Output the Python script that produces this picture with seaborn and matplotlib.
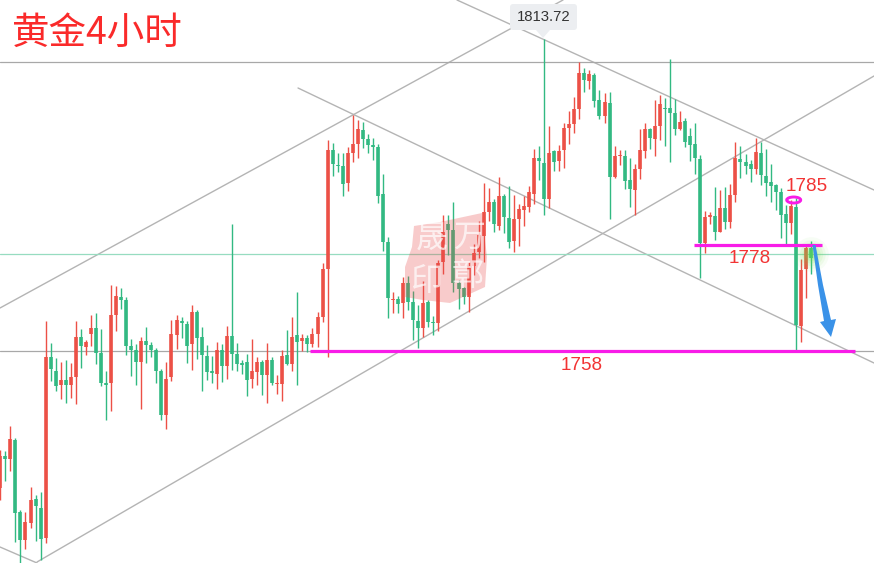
import numpy as np
import pandas as pd
import seaborn as sns
import matplotlib
matplotlib.use("Agg")
import matplotlib.pyplot as plt
from matplotlib.patches import Ellipse, FancyBboxPatch, Polygon
from matplotlib.transforms import Affine2D

highs = [
    1740.18, 1740.0, 1744.5, 1742.34, 1729.38, 1729.02, 1733.46, 1732.08, 1732.62, 1763.4,
    1759.44, 1756.74, 1756.02, 1756.38, 1755.84, 1763.4, 1761.96, 1759.98, 1764.48, 1764.84,
    1761.96, 1754.4, 1769.88, 1769.7, 1769.34, 1767.72, 1760.16, 1759.26, 1760.52, 1762.32,
    1759.62, 1758.54, 1754.76, 1756.02, 1763.58, 1764.48, 1764.12, 1763.4, 1766.28, 1765.38,
    1762.32, 1759.08, 1757.1, 1759.62, 1759.26, 1762.5, 1780.86, 1759.44, 1756.38, 1757.46,
    1760.16, 1756.92, 1756.38, 1759.44, 1756.92, 1753.68, 1758.18, 1761.78, 1764.12, 1768.62,
    1761.06, 1760.88, 1762.14, 1765.02, 1773.84, 1795.98, 1795.44, 1793.64, 1793.64, 1794.72,
    1800.48, 1799.58, 1799.22, 1797.06, 1796.34, 1795.26, 1789.86, 1778.52, 1768.62, 1767.9,
    1771.32, 1771.5, 1768.8, 1766.28, 1770.6, 1767.18, 1764.3, 1774.38, 1782.48, 1782.48,
    1784.82, 1770.78, 1769.52, 1774.02, 1777.26, 1781.4, 1788.24, 1787.34, 1785.36, 1789.32,
    1786.26, 1787.7, 1786.08, 1784.46, 1785.9, 1787.7, 1794.36, 1794.9, 1814.16, 1798.5,
    1794.18, 1795.08, 1799.04, 1801.2, 1803.72, 1810.02, 1808.94, 1808.58, 1808.04, 1804.98,
    1804.44, 1804.62, 1794.9, 1794.18, 1794.18, 1792.74, 1791.66, 1797.96, 1799.04, 1798.14,
    1803.18, 1804.08, 1803.54, 1810.56, 1803.36, 1801.2, 1799.94, 1798.14, 1799.04, 1793.28,
    1783.2, 1783.02, 1787.52, 1786.98, 1787.52, 1788.06, 1795.62, 1794.9, 1793.46, 1792.38,
    1796.34, 1795.62, 1794.36, 1791.66, 1788.06, 1787.34, 1784.28, 1785.18, 1785.54, 1774.56,
    1776.9, 1777.8,
]
lows = [
    1731.18, 1734.66, 1736.4, 1723.62, 1719.78, 1722.42, 1726.14, 1723.8, 1720.38, 1723.44,
    1752.6, 1750.8, 1749.36, 1748.64, 1749.54, 1748.46, 1754.94, 1757.28, 1758.9, 1755.66,
    1751.7, 1745.58, 1747.2, 1761.6, 1765.56, 1757.28, 1753.5, 1751.88, 1747.56, 1755.84,
    1756.92, 1752.24, 1745.58, 1743.96, 1752.6, 1758.36, 1760.34, 1755.84, 1754.58, 1756.56,
    1750.8, 1752.78, 1752.24, 1751.16, 1752.42, 1752.96, 1754.58, 1754.4, 1753.86, 1749.9,
    1751.34, 1751.88, 1750.08, 1748.64, 1751.88, 1750.26, 1749.0, 1755.48, 1754.4, 1751.88,
    1758.0, 1757.82, 1758.72, 1758.72, 1763.22, 1756.92, 1789.5, 1790.22, 1785.9, 1786.8,
    1792.02, 1792.74, 1794.54, 1793.64, 1792.38, 1784.64, 1776.0, 1763.94, 1764.84, 1764.84,
    1763.94, 1765.38, 1759.98, 1758.54, 1760.52, 1762.32, 1760.88, 1761.6, 1771.86, 1775.28,
    1768.62, 1765.56, 1766.46, 1765.02, 1771.68, 1774.74, 1774.02, 1781.4, 1779.42, 1779.78,
    1779.24, 1776.54, 1775.82, 1776.9, 1780.5, 1783.02, 1784.46, 1788.78, 1782.48, 1783.74,
    1790.4, 1790.4, 1790.94, 1795.26, 1797.24, 1799.76, 1804.62, 1805.16, 1801.92, 1799.76,
    1799.04, 1781.76, 1789.14, 1791.48, 1787.16, 1783.92, 1782.48, 1788.96, 1792.74, 1794.36,
    1793.1, 1795.98, 1794.9, 1792.02, 1796.88, 1797.78, 1794.72, 1792.2, 1789.86, 1771.14,
    1775.64, 1780.86, 1777.98, 1779.42, 1779.96, 1780.14, 1784.82, 1789.14, 1789.86, 1788.42,
    1789.86, 1787.88, 1785.9, 1784.82, 1783.38, 1778.34, 1777.26, 1779.06, 1758.18, 1759.62,
    1767.54, 1771.86,
]
opens = [
    1733.34, 1739.1, 1738.56, 1741.98, 1729.02, 1723.98, 1727.04, 1731.36, 1729.74, 1724.34,
    1756.92, 1754.4, 1751.88, 1752.78, 1751.88, 1753.32, 1760.52, 1758.72, 1761.06, 1762.14,
    1757.64, 1752.24, 1752.24, 1764.48, 1767.72, 1767.18, 1758.9, 1758.18, 1756.02, 1759.8,
    1759.08, 1758.18, 1754.4, 1746.48, 1753.32, 1760.88, 1763.4, 1762.86, 1759.26, 1765.02,
    1760.52, 1757.1, 1754.4, 1753.86, 1758.18, 1755.3, 1760.7, 1757.46, 1755.84, 1756.02,
    1752.96, 1754.22, 1756.02, 1753.68, 1756.38, 1752.06, 1752.06, 1757.28, 1755.66, 1760.88,
    1759.8, 1760.34, 1759.26, 1761.06, 1764.12, 1772.76, 1794.18, 1791.48, 1791.3, 1788.24,
    1793.64, 1795.26, 1797.78, 1796.16, 1795.08, 1794.72, 1786.26, 1777.62, 1767.18, 1767.36,
    1766.64, 1770.24, 1766.82, 1763.4, 1762.14, 1766.82, 1763.22, 1763.04, 1774.02, 1780.86,
    1779.78, 1770.24, 1769.34, 1767.72, 1773.3, 1775.82, 1778.7, 1783.02, 1784.82, 1780.5,
    1785.9, 1781.94, 1777.8, 1781.76, 1783.38, 1783.92, 1786.26, 1792.74, 1791.84, 1785.36,
    1794.0, 1792.2, 1794.18, 1798.14, 1798.86, 1801.56, 1808.04, 1806.6, 1807.68, 1803.18,
    1800.3, 1802.64, 1789.32, 1793.1, 1793.1, 1788.78, 1786.98, 1790.76, 1794.0, 1797.96,
    1796.16, 1798.5, 1801.74, 1801.74, 1800.84, 1797.96, 1799.4, 1796.7, 1795.26, 1792.56,
    1777.44, 1782.12, 1782.3, 1779.42, 1783.74, 1781.22, 1786.08, 1792.56, 1792.02, 1791.66,
    1790.76, 1793.64, 1789.5, 1788.42, 1787.88, 1786.62, 1782.66, 1781.04, 1783.92, 1762.5,
    1772.76, 1776.54,
]
closes = [
    1739.1, 1738.56, 1742.16, 1728.84, 1723.98, 1727.22, 1731.18, 1730.1, 1724.16, 1756.92,
    1754.76, 1751.7, 1752.78, 1751.88, 1753.32, 1760.52, 1758.9, 1759.62, 1762.14, 1757.64,
    1752.24, 1751.88, 1764.48, 1767.9, 1767.18, 1758.9, 1758.18, 1756.02, 1759.8, 1759.08,
    1758.18, 1754.4, 1746.48, 1752.96, 1761.06, 1763.58, 1763.04, 1758.9, 1765.02, 1760.34,
    1757.28, 1754.22, 1754.04, 1758.18, 1755.3, 1760.7, 1757.46, 1755.66, 1755.48, 1752.78,
    1754.4, 1756.02, 1753.68, 1756.38, 1752.24, 1752.24, 1757.1, 1755.66, 1760.52, 1759.62,
    1760.34, 1759.26, 1761.06, 1764.12, 1772.76, 1794.18, 1791.66, 1791.3, 1788.06, 1793.64,
    1795.26, 1797.96, 1796.16, 1795.08, 1794.72, 1785.9, 1777.62, 1767.54, 1767.36, 1766.46,
    1770.24, 1766.82, 1763.58, 1762.14, 1766.64, 1763.22, 1763.04, 1773.84, 1779.42, 1779.78,
    1770.24, 1769.16, 1767.72, 1773.3, 1775.64, 1778.88, 1783.02, 1784.82, 1780.86, 1785.9,
    1782.12, 1777.62, 1781.76, 1783.56, 1784.1, 1786.62, 1792.74, 1792.2, 1785.36, 1793.64,
    1792.02, 1794.0, 1798.14, 1798.86, 1801.56, 1808.04, 1806.78, 1807.86, 1803.0, 1800.3,
    1802.82, 1789.32, 1793.1, 1793.28, 1788.6, 1787.16, 1790.76, 1794.18, 1797.96, 1796.34,
    1798.5, 1802.46, 1801.56, 1800.84, 1797.96, 1799.22, 1795.62, 1795.08, 1792.74, 1777.44,
    1782.12, 1782.48, 1779.42, 1783.74, 1781.22, 1786.08, 1792.74, 1792.02, 1791.3, 1790.76,
    1793.82, 1789.68, 1788.24, 1787.7, 1786.62, 1782.48, 1781.04, 1784.1, 1762.68, 1772.58,
    1776.54, 1774.74,
]

# drawn trend lines: bar index and price at both ends
trend_names = ["up_top", "up_bottom", "down_mid", "down_top", "down_left"]
trend_bars = [(-0.06, 111.76), (7.29, 173.52), (59.13, 173.52), (90.7, 173.52), (-0.06, 7.29)]
trend_prices = [(1765.74, 1821.18), (1720.02, 1807.5), (1805.34, 1755.84), (1821.18, 1786.98), (1722.72, 1719.84)]

resistance_price = 1810.1
floor_price = 1758.0
last_price = 1775.4

# magenta levels
level_bars = [(61.5, 169.75), (137.8, 163.2)]
level_prices = [1758.0, 1777.08]
level_labels = ["1758", "1778", "1785"]
label_bars = [115.5, 148.8, 160.1]
label_prices = [1755.4, 1774.7, 1787.6]

title = "黄金4小时"
peak_label = "1813.72"
stamp_chars = ["晟", "万", "印", "鄣"]

W, H = 874, 563
up_colour, down_colour = "#ec5046", "#32b982"

sns.set_theme(style="white")
plt.rcParams["font.family"] = ["Liberation Sans", "Noto Sans CJK SC", "DejaVu Sans"]

fig = plt.figure(figsize=(W / 100, H / 100), dpi=100)
ax = fig.add_axes([0, 0, 1, 1])
# picture pixels, origin at the top left, for the hand drawn marks
px = Affine2D().scale(1, -1).translate(0, H)

df = pd.DataFrame({"bar": range(len(opens)), "open": opens, "high": highs, "low": lows, "close": closes})
df["side"] = np.where(df["close"] >= df["open"], "up", "down")
wicks = df.melt(id_vars=["bar", "side"], value_vars=["high", "low"], value_name="price")
bodies = df.melt(id_vars=["bar", "side"], value_vars=["open", "close"], value_name="price")

trends = pd.DataFrame({
    "name": np.repeat(trend_names, 2),
    "bar": np.ravel(trend_bars),
    "price": np.ravel(trend_prices),
})

sns.lineplot(data=trends, x="bar", y="price", units="name", estimator=None, color="#b4b4b4",
             linewidth=1.0, legend=False, ax=ax, zorder=1)
ax.axhline(resistance_price, color="#a8a8a8", lw=0.9, zorder=1)
ax.axhline(floor_price, color="#a8a8a8", lw=0.9, zorder=1)
ax.axhline(last_price, color="#97dcc0", lw=0.9, zorder=1)

palette = {"up": up_colour, "down": down_colour}
sns.lineplot(data=wicks, x="bar", y="price", hue="side", units="bar", estimator=None, palette=palette,
             linewidth=1.0, legend=False, ax=ax, zorder=3, solid_capstyle="butt")
sns.lineplot(data=bodies, x="bar", y="price", hue="side", units="bar", estimator=None, palette=palette,
             linewidth=2.6, legend=False, ax=ax, zorder=3, solid_capstyle="butt")

# seal over the candles
stamp = Polygon([(414, 226), (440, 222), (482, 213), (487, 257), (485, 287), (450, 303), (423, 300),
                 (405, 297), (405, 267), (412, 247)], closed=True, fc="#e64646", ec="none", alpha=0.28,
                transform=px, zorder=4)
ax.add_patch(stamp)
for ch, (cx, cy) in zip(stamp_chars, [(432, 240), (470, 238), (426, 281), (468, 276)]):
    ax.text(cx, cy, ch, transform=px, color="white", alpha=0.7, fontsize=23,
            ha="center", va="center", family=["Noto Sans CJK SC"], zorder=5)

# glow on the last price
for size, a in [(620, 0.05), (420, 0.07), (280, 0.09), (170, 0.12), (90, 0.15), (40, 0.18)]:
    ax.scatter([df["bar"].iloc[-1]], [last_price], s=size, color="#6fe04a", alpha=a, linewidths=0, zorder=6)

for (b0, b1), p in zip(level_bars, level_prices):
    ax.plot([b0, b1], [p, p], color="#f81ce8", lw=2.3, solid_capstyle="butt", zorder=6)
ax.add_patch(Ellipse((793.7, 200), 14, 6, fc="none", ec="#f81ce8", lw=2.1, transform=px, zorder=7))

for lab, b, p in zip(level_labels, label_bars, label_prices):
    ax.text(b, p, lab, color="#f23434", fontsize=13.6, ha="center", va="center", zorder=7)

# blue arrow
ax.add_patch(Polygon([(812.5, 245), (815.5, 245), (823, 285), (831, 320), (836, 319), (831, 337), (820, 322),
                      (824, 321), (818, 285)],
                     closed=True, fc="#3a92e8", ec="none", transform=px, zorder=7))

# tooltip at the high
ax.add_patch(FancyBboxPatch((512, 6), 63, 22, boxstyle="round,pad=2,rounding_size=3", fc="#eceef1", ec="none",
                            transform=px, zorder=8))
ax.add_patch(Polygon([(536, 30), (550, 30), (543, 38)], closed=True, fc="#eceef1", ec="none", transform=px, zorder=8))
ax.text(544, 17, peak_label, transform=px, color="#333333", fontsize=10.7, ha="center", va="center", zorder=9)

ax.text(12, 33, title, transform=px, color="#fa2a2a", fontsize=27, ha="left", va="center",
        family=["Noto Sans CJK SC"], zorder=9)

ax.set_xlim(-0.06, 173.52)
ax.set_ylim(1719.84, 1821.18)
ax.set_axis_off()

fig.savefig("out.png", dpi=100)
